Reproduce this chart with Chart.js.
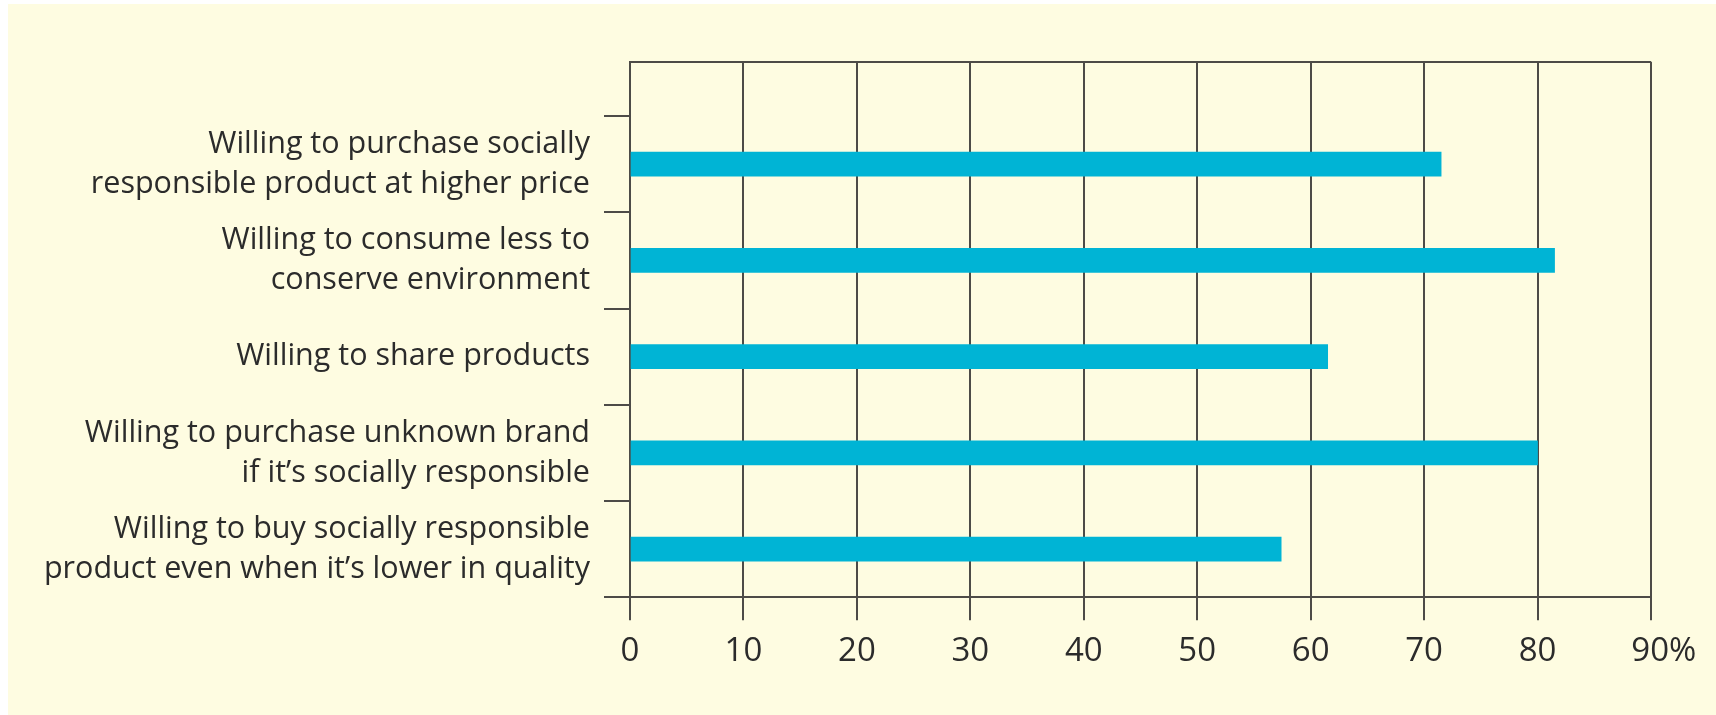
<!DOCTYPE html>
<html>
<head>
<meta charset="utf-8">
<script src="https://cdn.jsdelivr.net/npm/chart.js@4.4.1/dist/chart.umd.min.js"></script>
<style>
  html, body { margin: 0; padding: 0; background: #ffffff; }
  #panel { position: absolute; left: 8px; top: 4px; width: 1708px; height: 711px; background: #fefce1; }
</style>
</head>
<body>
<div id="panel"><canvas id="survey-chart" width="1708" height="711"></canvas></div>
<script>
// categories, top to bottom
const categories = [
  ['Willing to purchase socially', 'responsible product at higher price'],
  ['Willing to consume less to', 'conserve environment'],
  ['Willing to share products'],
  ['Willing to purchase unknown brand', 'if it\u2019s socially responsible'],
  ['Willing to buy socially responsible', 'product even when it\u2019s lower in quality']
];
const percentValues = [71.5, 81.5, 61.5, 80.0, 57.4];
const xTicks = [0, 10, 20, 30, 40, 50, 60, 70, 80, 90];

const lineColor = '#4d4b47';
const textColor = '#2b2b2b';
const yTop = -1.065; // extra room above the first bar

const ctx = document.getElementById('survey-chart').getContext('2d');

new Chart(ctx, {
  type: 'bar',
  data: {
    datasets: [{
      label: 'Share of consumers',
      data: percentValues.map((v, i) => ({ x: v, y: i })),
      backgroundColor: '#00b4d5',
      borderWidth: 0,
      barThickness: 24
    }]
  },
  options: {
    indexAxis: 'y',
    responsive: false,
    animation: false,
    layout: { padding: { top: 57.7, right: 65, bottom: 0, left: 0 } },
    plugins: {
      legend: { display: false },
      tooltip: { enabled: false }
    },
    scales: {
      x: {
        type: 'linear',
        min: 0,
        max: 90,
        afterBuildTicks: (axis) => { axis.ticks = xTicks.map(v => ({ value: v })); },
        afterFit: (axis) => { axis.height = 117.7; },
        ticks: {
          color: textColor,
          font: { family: 'Open Sans', size: 33 },
          padding: 11,
          maxRotation: 0,
          autoSkip: false,
          // last label keeps the number on the tick, % hangs to the right
          callback: (v) => v === 90 ? '   90%' : String(v)
        },
        grid: {
          color: lineColor,
          lineWidth: 2,
          tickLength: 23,
          tickWidth: 2,
          tickColor: lineColor
        },
        border: { color: lineColor, width: 2 }
      },
      y: {
        type: 'linear',
        reverse: true,
        offset: false,
        min: yTop,
        max: categories.length - 0.5,
        afterBuildTicks: (axis) => {
          const t = [{ value: yTop }];
          for (let v = -0.5; v <= categories.length - 0.5; v += 0.5) t.push({ value: v });
          axis.ticks = t;
        },
        afterFit: (axis) => { axis.width = 622; },
        ticks: {
          color: textColor,
          font: { family: 'Open Sans', size: 30.5, lineHeight: 40 / 30.5 },
          padding: 14,
          autoSkip: false,
          callback: (v) => Number.isInteger(v) && categories[v] ? categories[v] : ''
        },
        grid: {
          offset: false,
          drawOnChartArea: true,
          color: (c) => c.tick && c.tick.value === yTop ? lineColor : 'transparent',
          lineWidth: 2,
          tickLength: 26,
          tickWidth: 2,
          tickColor: (c) => c.tick && c.tick.value !== yTop && !Number.isInteger(c.tick.value) ? lineColor : 'transparent'
        },
        border: { color: lineColor, width: 2 }
      }
    }
  }
});
</script>
</body>
</html>
